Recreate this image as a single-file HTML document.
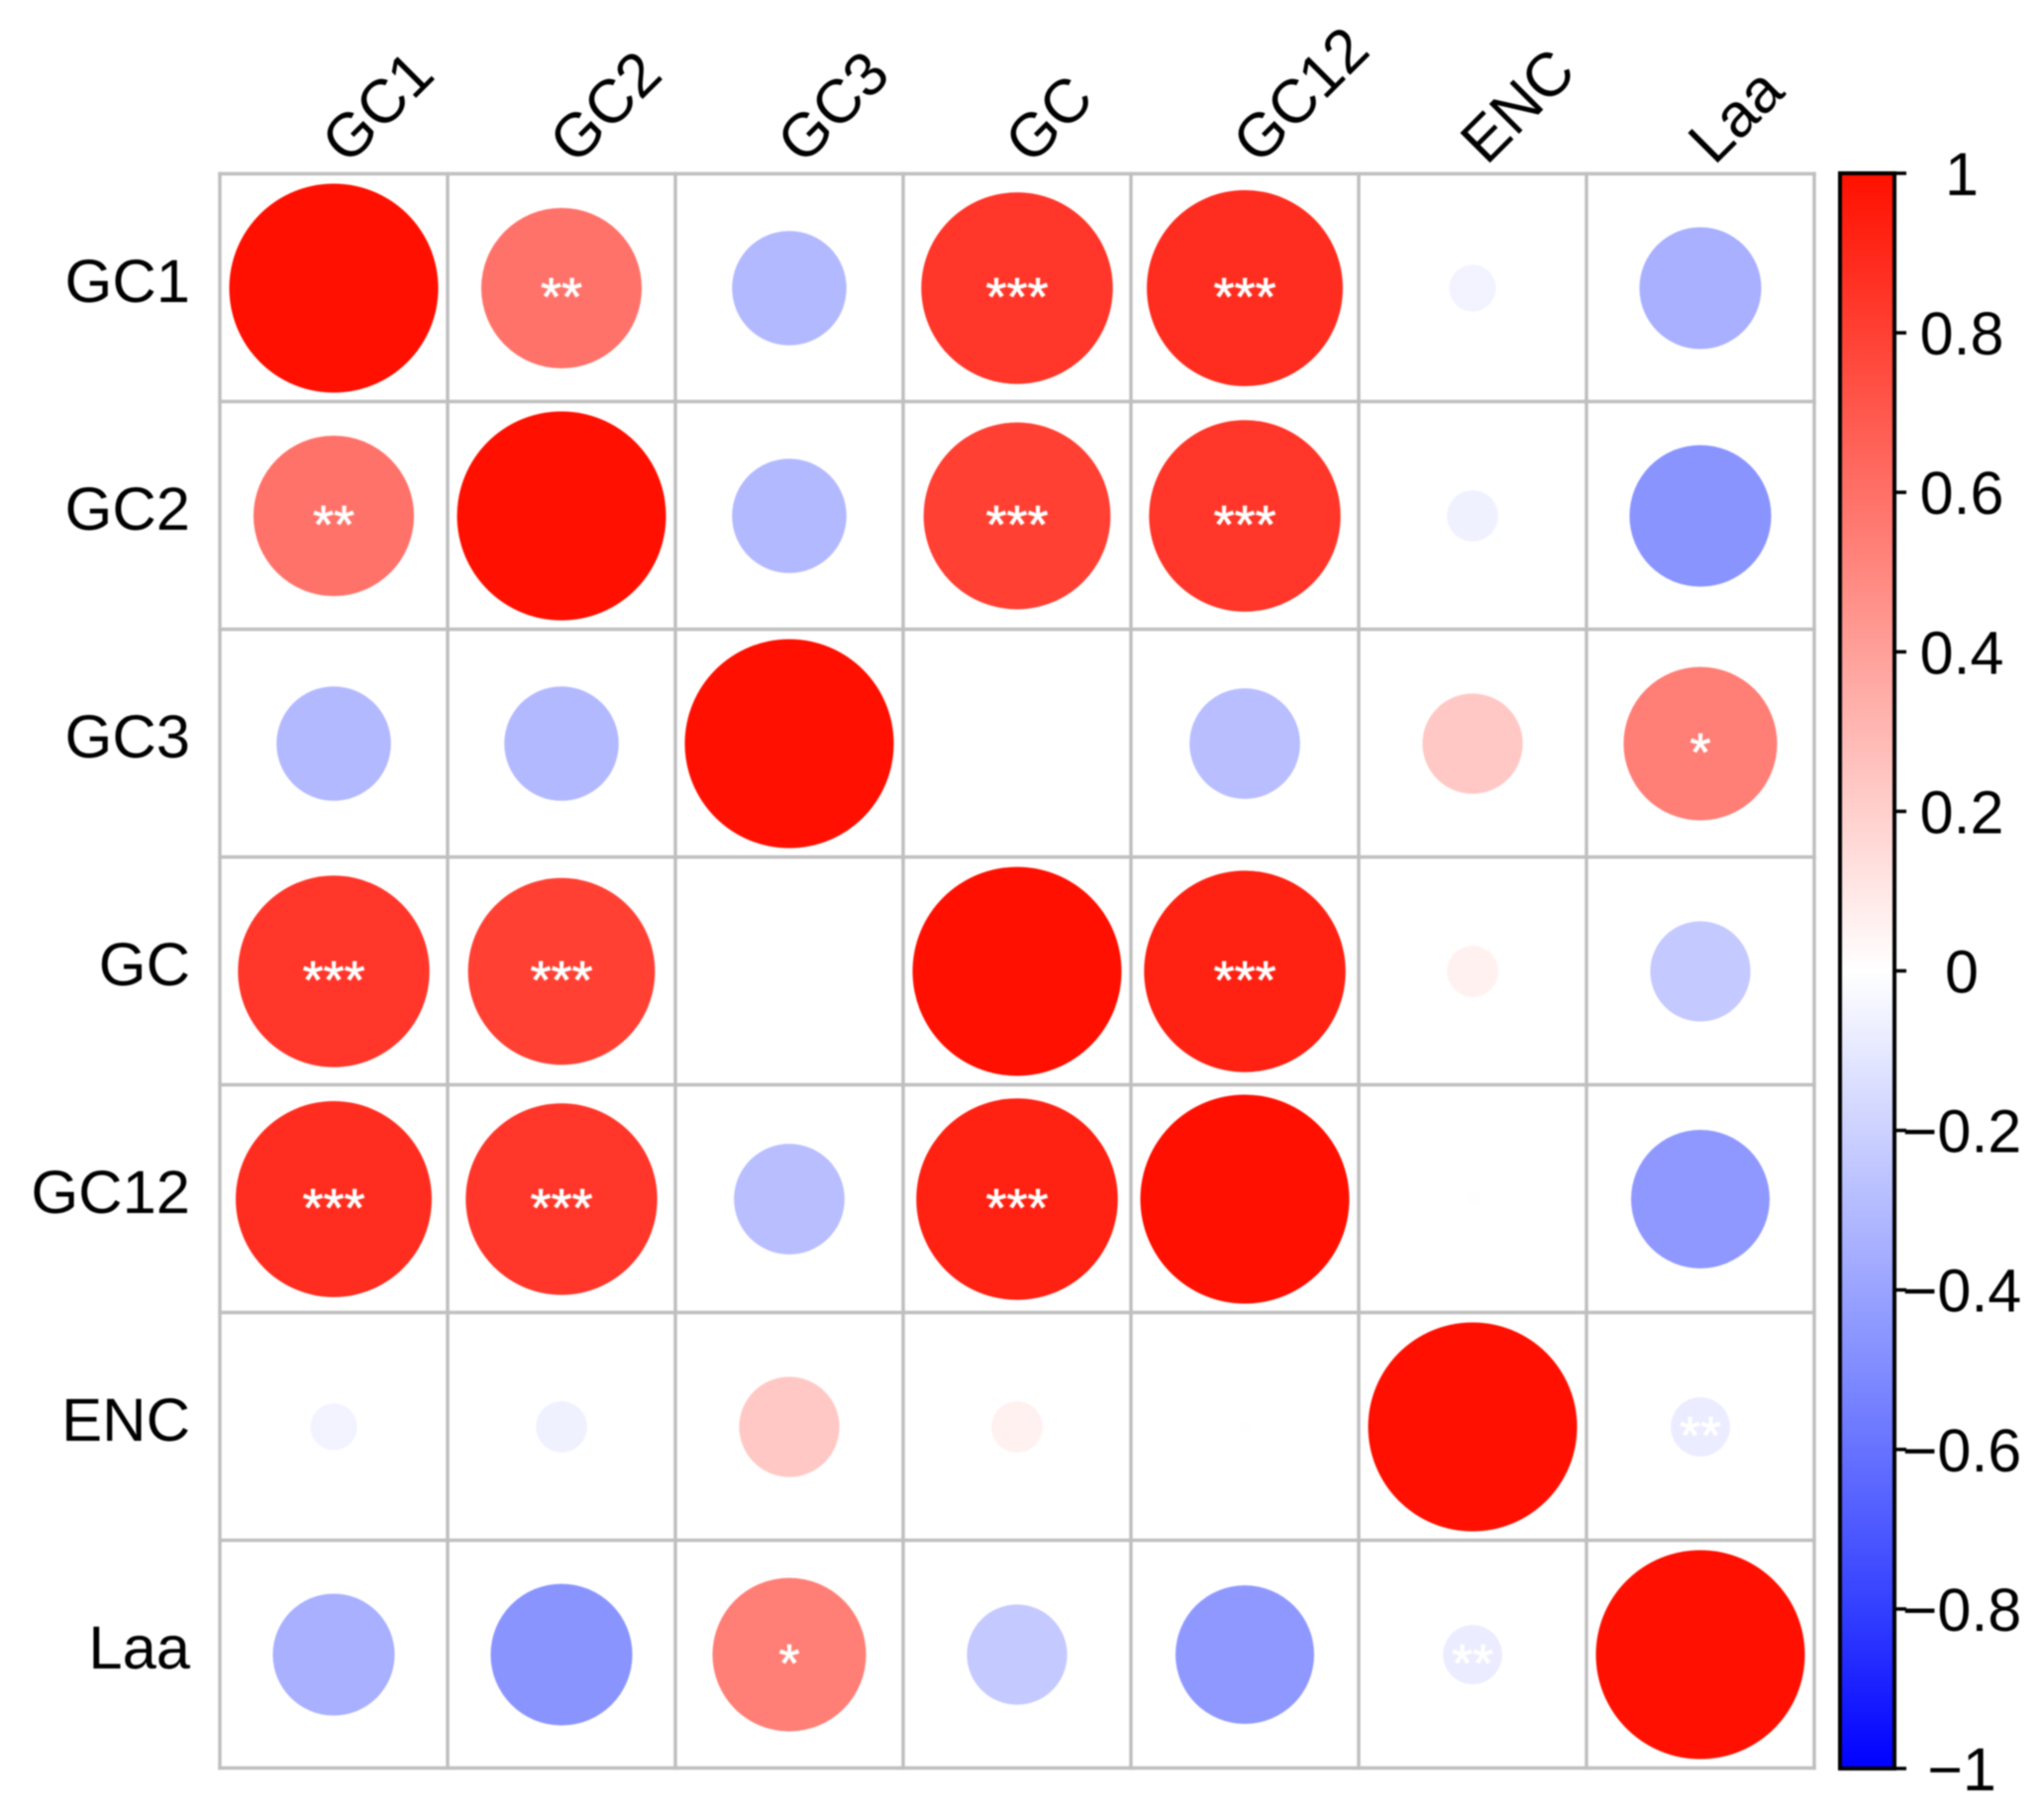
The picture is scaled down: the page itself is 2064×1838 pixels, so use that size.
<!DOCTYPE html>
<html>
<head>
<meta charset="utf-8">
<title>Correlation matrix</title>
<style>
html,body{margin:0;padding:0;background:#fff;width:2064px;height:1838px;overflow:hidden}
svg{display:block;filter:blur(0.7px)}
text{font-family:"Liberation Sans",Arial,sans-serif;fill:#000}
</style>
</head>
<body>
<svg id="chart" width="2064" height="1838" viewBox="0 0 2064 1838" xmlns="http://www.w3.org/2000/svg">
  <defs>
    <linearGradient id="bar-gradient" x1="0" y1="0" x2="0" y2="1">
      <stop offset="0" stop-color="#ff1000"/>
      <stop offset="0.5" stop-color="#ffffff"/>
      <stop offset="0.75" stop-color="#808cff"/>
      <stop offset="0.9" stop-color="#333fff"/>
      <stop offset="1" stop-color="#0000ff"/>
    </linearGradient>
  </defs>
  <rect x="0" y="0" width="2064" height="1838" fill="#ffffff"/>
  <g id="cells"></g>
  <g id="grid"></g>
  <g id="labels"></g>
  <g id="legend"></g>
</svg>
<script>
const categories = ["GC1", "GC2", "GC3", "GC", "GC12", "ENC", "Laa"];
const rowGC1  = [1.00, 0.59, -0.30, 0.84, 0.88, -0.05, -0.34];
const rowGC2  = [0.59, 1.00, -0.30, 0.80, 0.84, -0.06, -0.46];
const rowGC3  = [-0.30, -0.30, 1.00, 0.002, -0.28, 0.23, 0.54];
const rowGC   = [0.84, 0.80, 0.002, 1.00, 0.93, 0.06, -0.23];
const rowGC12 = [0.88, 0.84, -0.28, 0.93, 1.00, 0.004, -0.44];
const rowENC  = [-0.05, -0.06, 0.23, 0.06, 0.004, 1.00, -0.08];
const rowLaa  = [-0.34, -0.46, 0.54, -0.23, -0.44, -0.08, 1.00];
const matrixValues = [rowGC1, rowGC2, rowGC3, rowGC, rowGC12, rowENC, rowLaa];
const starsGC1  = ["", "**", "", "***", "***", "", ""];
const starsGC2  = ["**", "", "", "***", "***", "", ""];
const starsGC3  = ["", "", "", "", "", "", "*"];
const starsGC   = ["***", "***", "", "", "***", "", ""];
const starsGC12 = ["***", "***", "", "***", "", "", ""];
const starsENC  = ["", "", "", "", "", "", "**"];
const starsLaa  = ["", "", "*", "", "", "**", ""];
const matrixStars = [starsGC1, starsGC2, starsGC3, starsGC, starsGC12, starsENC, starsLaa];
const legendTicks = [1, 0.8, 0.6, 0.4, 0.2, 0, -0.2, -0.4, -0.6, -0.8, -1];

const NS = "http://www.w3.org/2000/svg";
const plotLeft = 222, plotTop = 175.5, cellSize = 230, maxRadius = 105.5;
const barLeft = 1858, barRight = 1913, barTop = 175, barBottom = 1786;

function xEdge(i) { return plotLeft + i * cellSize; }
function yEdge(i) { return plotTop + i * cellSize; }
function xCenter(i) { return xEdge(i) + cellSize / 2; }
function yCenter(i) { return yEdge(i) + cellSize / 2 + 0.5; }
function radiusScale(v) { return maxRadius * Math.sqrt(Math.abs(v)); }
function colorScale(v) {
  const t = Math.min(1, Math.abs(v));
  if (v >= 0) {
    return "rgb(255," + Math.round(255 - 239 * t) + "," + Math.round(255 - 255 * t) + ")";
  }
  return "rgb(" + Math.round(255 - 255 * t) + "," + Math.round(255 - 233 * t) + ",255)";
}
function barY(v) { return barTop + (1 - v) / 2 * (barBottom - barTop); }
function tickText(v) {
  const s = Math.abs(v).toString();
  return (v < 0 ? "\u2212" : "") + s;
}
function make(tag, attrs, parent) {
  const el = document.createElementNS(NS, tag);
  for (const k in attrs) el.setAttribute(k, attrs[k]);
  parent.appendChild(el);
  return el;
}

const cellsG = document.getElementById("cells");
const gridG = document.getElementById("grid");
const labelsG = document.getElementById("labels");
const legendG = document.getElementById("legend");

matrixValues.forEach(function (row, r) {
  row.forEach(function (v, c) {
    const circle = make("circle", { cx: xCenter(c), cy: yCenter(r), r: radiusScale(v), fill: colorScale(v) }, cellsG);
    
    
    const stars = matrixStars[r][c];
    if (stars) {
      const star = make("text", { x: xCenter(c), y: yCenter(r) + 27, "text-anchor": "middle", "font-size": 54 }, cellsG);
      star.style.fill = "#ffffff";
      star.style.stroke = "#ffffff";
      star.style.strokeWidth = "0.8px";
      star.textContent = stars;
      
      
    }
  });
});

for (let i = 0; i <= categories.length; i++) {
  const v = make("line", { x1: xEdge(i), x2: xEdge(i), y1: yEdge(0) - 1.75, y2: yEdge(categories.length) + 1.75, stroke: "#bfbfbf", "stroke-width": 3.5 }, gridG);
  
  
  const h = make("line", { x1: xEdge(0) - 1.75, x2: xEdge(categories.length) + 1.75, y1: yEdge(i), y2: yEdge(i), stroke: "#bfbfbf", "stroke-width": 3.5 }, gridG);
  
  
}

categories.forEach(function (name, i) {
  const rowLabel = make("text", { x: 192, y: yCenter(i) + 14, "text-anchor": "end", "font-size": 61.5 }, labelsG);
  rowLabel.textContent = name;
  
  
  const colX = xCenter(i) + 14;
  const colLabel = make("text", { x: colX, y: 168, "font-size": 62, transform: "rotate(-45 " + colX + " 168)" }, labelsG);
  colLabel.textContent = name;
  
  
});

const bar = make("rect", { x: barLeft, y: barTop, width: barRight - barLeft, height: barBottom - barTop, fill: "url(#bar-gradient)", stroke: "#000", "stroke-width": 4 }, legendG);



legendTicks.forEach(function (v) {
  const tick = make("line", { x1: barRight, x2: barRight + 12, y1: barY(v), y2: barY(v), stroke: "#000", "stroke-width": 3.5 }, legendG);
  
  
  const label = make("text", { x: 1981, y: barY(v) + 22, "text-anchor": "middle", "font-size": 61 }, legendG);
  label.textContent = tickText(v);
  
  
});
</script>
</body>
</html>
